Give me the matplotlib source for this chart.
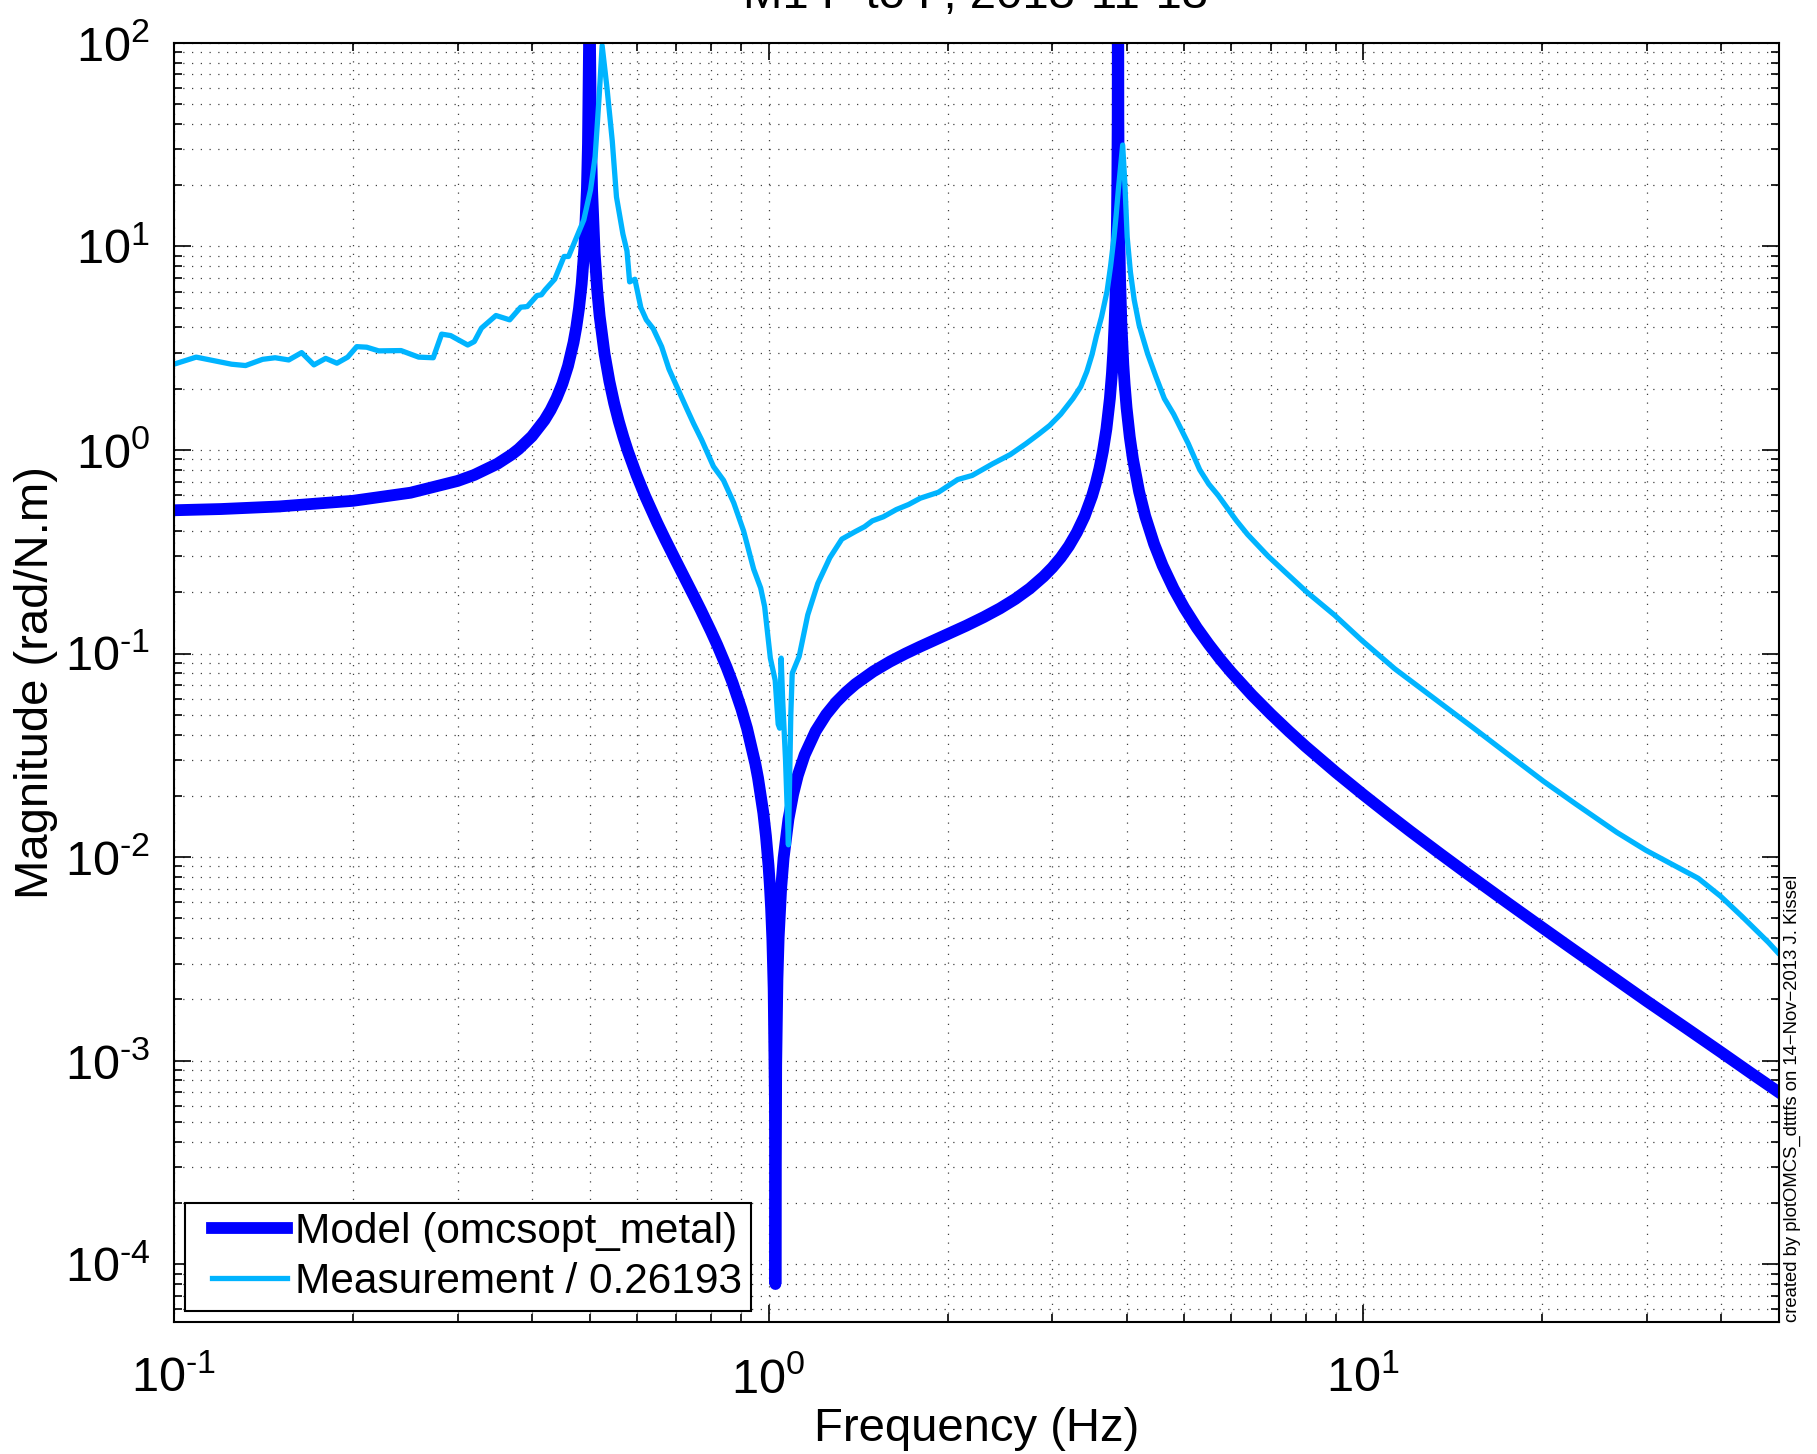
import matplotlib.pyplot as plt
from matplotlib.ticker import LogLocator, NullFormatter, FuncFormatter
from matplotlib.legend_handler import HandlerLine2D
import numpy as np

plt.rcParams['font.family'] = 'Liberation Sans'
plt.rcParams['mathtext.fontset'] = 'custom'
plt.rcParams['mathtext.rm'] = 'Liberation Sans'
plt.rcParams['mathtext.it'] = 'Liberation Sans:italic'
plt.rcParams['mathtext.bf'] = 'Liberation Sans:bold'
plt.rcParams['mathtext.default'] = 'regular'

# model (omcsopt_metal), values
model_freq = [0.1, 0.12, 0.15, 0.2, 0.25, 0.3, 0.32, 0.35, 0.37, 0.38, 0.4, 0.42,
              0.43, 0.44, 0.45, 0.46, 0.47, 0.475, 0.48, 0.485, 0.49, 0.495, 0.497,
              0.499, 0.5, 0.501, 0.503, 0.505, 0.51, 0.515, 0.52, 0.53, 0.54, 0.55,
              0.56, 0.57, 0.58, 0.6, 0.62, 0.65, 0.67, 0.7, 0.72, 0.75, 0.77, 0.8,
              0.82, 0.85, 0.87, 0.9, 0.92, 0.95, 0.96, 0.98, 0.99, 1.0, 1.005, 1.01,
              1.015, 1.02, 1.025, 1.027, 1.03, 1.035, 1.04, 1.05, 1.06, 1.08, 1.1,
              1.12, 1.15, 1.2, 1.25, 1.3, 1.35, 1.4, 1.5, 1.6, 1.7, 1.8, 1.9, 2.0,
              2.15, 2.3, 2.45, 2.6, 2.75, 2.9, 3.0, 3.1, 3.2, 3.3, 3.4, 3.5, 3.55,
              3.6, 3.65, 3.7, 3.75, 3.78, 3.8, 3.82, 3.83, 3.84, 3.85, 3.855, 3.86,
              3.865, 3.87, 3.875, 3.88, 3.89, 3.9, 3.92, 3.95, 3.97, 4.0, 4.05, 4.1,
              4.2, 4.3, 4.45, 4.6, 4.8, 5.0, 5.25, 5.5, 5.75, 6.0, 6.5, 7.0, 7.5,
              8.0, 9.0, 10, 11, 12, 13.5, 15, 17.5, 20, 22.5, 25, 30, 35, 40, 45, 50]
model_mag = [0.506, 0.513, 0.528, 0.563, 0.617, 0.705, 0.7545, 0.856, 0.951, 1.011,
             1.167, 1.4026, 1.571, 1.7965, 2.112, 2.587, 3.378, 4.011, 4.961, 6.545,
             9.71, 19.2, 31.9, 95, 1000, 94.8, 31.5, 18.8, 9.30, 6.13, 4.547, 2.964,
             2.173, 1.698, 1.382, 1.157, 0.9878, 0.752, 0.5945, 0.438, 0.3647,
             0.2825, 0.2404, 0.190, 0.1629, 0.129, 0.1101, 0.0858, 0.07187, 0.0536,
             0.043, 0.0288, 0.02453, 0.0165, 0.0127, 0.00908, 0.00732, 0.0056,
             0.003915, 0.00226, 0.00064, 0.00008, 0.00095, 0.002514, 0.00405,
             0.007027, 0.0099, 0.01535, 0.0204, 0.0252, 0.0318, 0.0416, 0.0502,
             0.0578, 0.06457, 0.0708, 0.08169, 0.0913, 0.10005, 0.1083, 0.11638,
             0.1245, 0.1371, 0.151, 0.1667, 0.1855, 0.2088, 0.239, 0.2643, 0.296,
             0.3376, 0.394, 0.4729, 0.595, 0.6849, 0.808, 0.9866, 1.271, 1.791,
             2.381, 3.056, 4.269, 5.33, 7.1, 10.64, 14.18, 21.3, 42.5, 1000, 42.5,
             21.2, 10.61, 7.06, 4.229, 2.634, 2.1035, 1.613, 1.1594, 0.903, 0.623,
             0.473, 0.3456, 0.2705, 0.2081, 0.168, 0.1341, 0.111, 0.09382, 0.0809,
             0.06256, 0.0503, 0.04154, 0.035, 0.02608, 0.0203, 0.0163, 0.0134,
             0.01035, 0.00825, 0.005956, 0.00451, 0.003535, 0.00285, 0.00196,
             0.00144, 0.0011, 0.000865, 0.0007]

# measurement / 0.26193
meas_freq = [0.100, 0.109, 0.125, 0.132, 0.141, 0.148, 0.156, 0.164, 0.172, 0.180,
             0.188, 0.196, 0.203, 0.211, 0.221, 0.241, 0.258, 0.273, 0.282, 0.292,
             0.312, 0.320, 0.329, 0.348, 0.367, 0.383, 0.393, 0.408, 0.415, 0.421,
             0.437, 0.453, 0.461, 0.475, 0.489, 0.502, 0.511, 0.519, 0.525, 0.535,
             0.546, 0.555, 0.569, 0.578, 0.584, 0.596, 0.610, 0.623, 0.640, 0.661,
             0.680, 0.701, 0.729, 0.748, 0.772, 0.808, 0.840, 0.874, 0.908, 0.944,
             0.970, 0.985, 1.007, 1.026, 1.038, 1.044, 1.050, 1.056, 1.068, 1.080,
             1.090, 1.096, 1.126, 1.164, 1.21, 1.268, 1.328, 1.40, 1.45, 1.495,
             1.56, 1.64, 1.72, 1.80, 1.93, 2.08, 2.2, 2.38, 2.55, 2.71, 2.85, 2.97,
             3.1, 3.25, 3.35, 3.43, 3.5, 3.56, 3.63, 3.71, 3.76, 3.81, 3.84, 3.875,
             3.94, 3.975, 4.01, 4.06, 4.12, 4.2, 4.34, 4.48, 4.63, 4.8, 5.08, 5.31,
             5.5, 5.70, 6.12, 6.39, 6.92, 7.38, 8.04, 8.95, 9.96, 11.3, 13.06, 15.3,
             17.4, 20.1, 22.8, 26.7, 29.9, 34.0, 36.6, 39.9, 43.4, 48.0, 49.8]
meas_mag = [2.64, 2.86, 2.64, 2.60, 2.79, 2.84, 2.77, 3.01, 2.62, 2.82, 2.67, 2.86,
            3.22, 3.20, 3.07, 3.08, 2.86, 2.84, 3.71, 3.65, 3.28, 3.41, 3.97, 4.58,
            4.36, 5.03, 5.07, 5.74, 5.79, 6.12, 6.91, 8.93, 8.93, 11.0, 13.5, 19.0,
            27.7, 54.7, 97, 60, 33, 17.5, 11.5, 9.5, 6.7, 6.9, 5.0, 4.36, 3.94, 3.22,
            2.5, 2.05, 1.59, 1.35, 1.12, 0.83, 0.71, 0.55, 0.40, 0.26, 0.21, 0.17,
            0.095, 0.074, 0.045, 0.043, 0.095, 0.060, 0.030, 0.0115, 0.050, 0.080,
            0.097, 0.155, 0.221, 0.296, 0.365, 0.398, 0.42, 0.449, 0.47, 0.51, 0.54,
            0.58, 0.62, 0.716, 0.75, 0.855, 0.95, 1.075, 1.2, 1.32, 1.5, 1.79, 2.05,
            2.43, 2.95, 3.64, 4.5, 6.05, 8.0, 11.1, 14.0, 19.0, 31.5, 20.0, 11.1,
            7.5, 5.47, 4.1, 2.97, 2.3, 1.79, 1.5, 1.075, 0.80, 0.68, 0.60, 0.45,
            0.385, 0.301, 0.2526, 0.2005, 0.1545, 0.1157, 0.0842, 0.0613, 0.0433,
            0.0325, 0.0236, 0.0182, 0.01324, 0.0108, 0.00883, 0.00787, 0.00643,
            0.0051, 0.00382, 0.0034]


def pow10_label(v, pos):
    # 10^n with a short dash for negative exponents, like the original
    n = int(round(np.log10(v)))
    s = str(abs(n))
    if n < 0:
        s = '\u2010' + s
    return '$10^{%s}$' % s


fig = plt.figure(figsize=(18.17, 14.54), dpi=100)
ax = fig.add_axes([0.0957, 0.0907, 0.8833, 0.8798])

l1, = ax.loglog(model_freq, model_mag, color='#0000FF', lw=8.5, label='Model (omcsopt_metal)')
l2, = ax.loglog(meas_freq, meas_mag, color='#00B4FF', lw=3.8, label='Measurement / 0.26193')

ax.set_xlim(0.1, 50)
ax.set_ylim(5.2e-5, 100)
ax.xaxis.set_major_locator(LogLocator(base=10, numticks=15))
ax.xaxis.set_minor_locator(LogLocator(base=10, subs=range(2, 10), numticks=30))
ax.yaxis.set_major_locator(LogLocator(base=10, numticks=15))
ax.yaxis.set_minor_locator(LogLocator(base=10, subs=range(2, 10), numticks=30))
ax.xaxis.set_major_formatter(FuncFormatter(pow10_label))
ax.yaxis.set_major_formatter(FuncFormatter(pow10_label))
ax.xaxis.set_minor_formatter(NullFormatter())
ax.yaxis.set_minor_formatter(NullFormatter())

ax.grid(True, which='both', ls=(0, (1, 6)), lw=0.9, color='0.25')
ax.tick_params(which='both', direction='in', top=True, right=True, width=1.2)
ax.tick_params(which='major', length=12, labelsize=35)
ax.tick_params(axis='x', which='major', pad=25)
ax.tick_params(axis='y', which='major', pad=17)
ax.tick_params(which='minor', length=6)
for s in ax.spines.values():
    s.set_linewidth(1.5)

ax.set_xlabel('Frequency (Hz)', fontsize=34)
ax.set_ylabel('Magnitude (rad/N.m)', fontsize=34)
ax.xaxis.set_label_coords(0.5, -0.0665)
ax.yaxis.set_label_coords(-0.0722, 0.5)

leg = ax.legend(loc='lower left', bbox_to_anchor=(0.102, 0.0986),
                bbox_transform=fig.transFigure, borderaxespad=0, fontsize=30.5,
                fancybox=False, edgecolor='black', framealpha=1,
                handlelength=2.2, handletextpad=0.2, labelspacing=0.25,
                borderpad=0.2,
                handler_map={l1: HandlerLine2D(xpad=0.42), l2: HandlerLine2D(xpad=0.42)})
leg.get_frame().set_linewidth(1.5)

fig.text(0.537, 1 - 8 / 1454, 'M1 P to P, 2013-11-13', ha='center',
         va='baseline', fontsize=34)
fig.text(0.9865, 1 - 1322 / 1454, 'created by plotOMCS_dtttfs on 14\u2212Nov\u22122013 J. Kissel',
         rotation=90, ha='center', va='bottom', fontsize=13.3)

fig.savefig('out.png', dpi=100)
